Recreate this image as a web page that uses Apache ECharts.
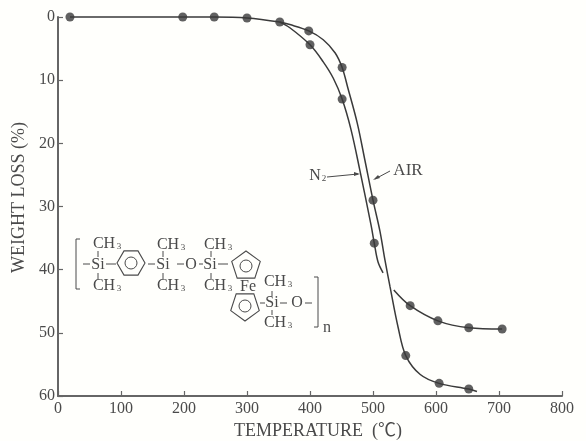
<!DOCTYPE html>
<html><head><meta charset="utf-8">
<style>html,body{margin:0;padding:0;background:#fffffc}#c{width:586px;height:441px}</style>
<script src="https://cdn.jsdelivr.net/npm/echarts@6/dist/echarts.min.js"></script>
</head><body><div id="c"></div>
<script>
const airCurve = [[19,0],[198,0],[248,0],[300,0.15],[352,0.8],[368,1.2],[398,2.2],[421,3.6],[440,5.7],[451,8],[460,11.2],[475,16.8],[487,22.6],[500,29],[511,33.9],[519,38.5],[527,42.7],[540,49.2],[552,53.6],[575,56.6],[605,58],[652,58.9],[665,59.3]];
const n2Curve = [[352,0.8],[368,1.7],[400,4.4],[421,7.1],[437,9.7],[451,13],[465,17.8],[479,24.2],[497,33],[502,35.8],[508,38.8],[516,40.5],[null,null],[533,43.2],[559,45.7],[603,48.1],[652,49.2],[705,49.4]];
const airPoints = [[19,0],[198,0],[248,0],[300,0.15],[352,0.8],[398,2.2],[451,8],[500,29],[552,53.6],[605,58],[652,58.9]];
const n2Points = [[400,4.4],[451,13],[502,35.8],[559,45.7],[603,48.1],[652,49.2],[705,49.4]];

const INK='#3a3a3a', TXT='#4a4a4a', SERIF='"Liberation Serif","Noto Sans CJK JP",serif';
function t(x,y,text,size,align){return {type:'text',x:x,y:y,style:{text:text,x:0,y:0,fill:TXT,font:(size||16)+'px "Liberation Serif"',align:align||'center',verticalAlign:'middle'}};}
function ch(x,y){return {type:'group',children:[t(x-3,y,'CH',16),t(x+12,y+3,'3',9)]};}
function l(x1,y1,x2,y2,w){return {type:'line',shape:{x1,y1,x2,y2},style:{stroke:TXT,lineWidth:w||1,fill:null}};}
function ngon(cx,cy,r,n,rot){const p=[];for(let i=0;i<n;i++){const a=rot+i*2*Math.PI/n;p.push([cx+r*Math.cos(a),cy+r*Math.sin(a)]);}
  return {type:'polygon',shape:{points:p},style:{fill:'none',stroke:TXT,lineWidth:1.1}};}
function ring(cx,cy,r){return {type:'circle',shape:{cx,cy,r},style:{fill:'none',stroke:TXT,lineWidth:1}};}

const structure=[
  l(76,239,76,289),l(76,239,80,239),l(76,289,80,289),
  ch(107,244),ch(171,245),ch(218,245),
  ch(107,286),ch(171,286),ch(218,286),
  l(83,264,90,264),t(98,265,'Si'),l(106,264,116,264),
  l(98,251,98,257),l(98,273,98,279),
  ngon(131,263,14,6,0),ring(131,263,6),
  l(148,264,155,264),t(163,265,'Si'),
  l(163,251,163,257),l(163,273,163,279),
  l(177,264,184,264),t(191,265,'O'),l(199,264,203,264),
  t(210,265,'Si'),l(218,264,228,264),
  l(211,251,211,257),l(211,273,211,279),
  ngon(246,266,15,5,-Math.PI/2),ring(246,266,6),
  t(248,287,'Fe'),
  ngon(245,306,15,5,Math.PI/2),ring(245,306,6),
  ch(278,282),ch(278,323),
  l(260,303,265,303),t(272,303,'Si'),l(280,303,287,303),
  l(272,291,272,296),l(272,310,272,315),
  t(297,303,'O'),l(305,303,312,303),
  l(318,277,318,327),l(314,277,318,277),l(314,327,318,327),
  t(327,328,'n'),
  t(315,176,'N',16),t(324,179,'2',9),
  l(327,177,358,174),{type:'polygon',shape:{points:[[360,174],[354,172],[354,176]]},style:{fill:TXT}},
  t(408,171,'AIR',17),
  l(390,171,375,179),{type:'polygon',shape:{points:[[373,180],[378,175],[380,178]]},style:{fill:TXT}}
];
structure.forEach(g=>g.z=20);

const chart=echarts.init(document.getElementById('c'),null,{renderer:'canvas'});
chart.setOption({
  animation:false,backgroundColor:'#fffffc',
  grid:{left:58,right:24,top:17,bottom:45,containLabel:false,outerBoundsMode:'none'},
  xAxis:{type:'value',min:0,max:800,interval:100,position:'bottom',
    name:'TEMPERATURE  (℃)',nameLocation:'middle',nameGap:25,
    nameTextStyle:{fontFamily:SERIF,fontSize:18,color:TXT,padding:[0,0,0,16]},
    axisLine:{onZero:false,lineStyle:{color:'#666',width:2}},
    axisTick:{inside:true,length:5,lineStyle:{color:'#666',width:1.2}},
    axisLabel:{margin:5,fontFamily:SERIF,fontSize:16,color:TXT},
    splitLine:{show:false}},
  yAxis:{type:'value',min:0,max:60,interval:10,inverse:true,
    name:'WEIGHT LOSS (%)',nameLocation:'middle',nameGap:23,
    nameTextStyle:{fontFamily:SERIF,fontSize:18,color:TXT,padding:[0,0,0,18]},
    axisLine:{onZero:false,lineStyle:{color:'#666',width:2}},
    axisTick:{inside:true,length:5,lineStyle:{color:'#666',width:1.2}},
    axisLabel:{margin:3,fontFamily:SERIF,fontSize:16,color:TXT},
    splitLine:{show:false}},
  series:[
    {name:'AIR',type:'line',data:airCurve,smooth:0.35,symbol:'none',lineStyle:{color:INK,width:1.5},clip:false},
    {name:'N2',type:'line',data:n2Curve,smooth:0.35,symbol:'none',connectNulls:false,lineStyle:{color:INK,width:1.5},clip:false},
    {name:'AIR points',type:'scatter',data:airPoints,symbolSize:9,itemStyle:{color:INK},clip:false},
    {name:'N2 points',type:'scatter',data:n2Points,symbolSize:9,itemStyle:{color:INK},clip:false}
  ],
  graphic:structure
});
</script></body></html>
